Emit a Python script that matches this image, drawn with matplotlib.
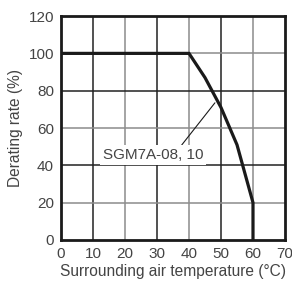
import numpy as np
import matplotlib.pyplot as plt

# derating curve
temp = [0, 40, 45, 50, 55, 60, 60]
rate = [100, 100, 87, 71, 51, 20, 0]
x_ticks = [0, 10, 20, 30, 40, 50, 60, 70]
y_ticks = [0, 20, 40, 60, 80, 100, 120]
label = "SGM7A-08, 10"

plt.rcParams['font.family'] = ['Liberation Sans', 'DejaVu Sans']

fig = plt.figure(figsize=(2.92, 2.87), dpi=100)
ax = fig.add_axes([0.209, 0.164, 0.767, 0.78])

# alternating dark / gray grid lines
for i, xv in enumerate(x_ticks[1:-1]):
    ax.axvline(xv, color='#222222' if i % 2 == 0 else '#8c8c8c', lw=1.1, zorder=1)
for i, yv in enumerate(y_ticks[1:-1]):
    ax.axhline(yv, color='#8c8c8c' if i % 2 == 0 else '#222222', lw=1.1, zorder=1)

ax.plot(temp, rate, color='#1a1a1a', lw=2.3, zorder=3, solid_joinstyle='miter')

ax.annotate(label, xy=(48.1, 73.5), xytext=(28.8, 45.5), ha='center', va='center',
            fontsize=11, color='#444444', zorder=4,
            bbox=dict(boxstyle='square,pad=0.2', fc='white', ec='none'),
            arrowprops=dict(arrowstyle='-', color='#1a1a1a', lw=0.8,
                            shrinkA=0, shrinkB=0, relpos=(0.76, 1.0)))

ax.set_xlim(0, 70)
ax.set_ylim(0, 120)
ax.set_xticks(x_ticks)
ax.set_yticks(y_ticks)
ax.tick_params(length=0, labelsize=11, colors='#444444', pad=5)
for s in ax.spines.values():
    s.set_linewidth(2)
    s.set_color('#1a1a1a')
    s.set_zorder(5)

ax.set_xlabel("Surrounding air temperature (°C)", fontsize=11.2, color='#444444', labelpad=2)
ax.set_ylabel("Derating rate (%)", fontsize=11.2, color='#444444', labelpad=4)

fig.savefig("out.png", dpi=100)
